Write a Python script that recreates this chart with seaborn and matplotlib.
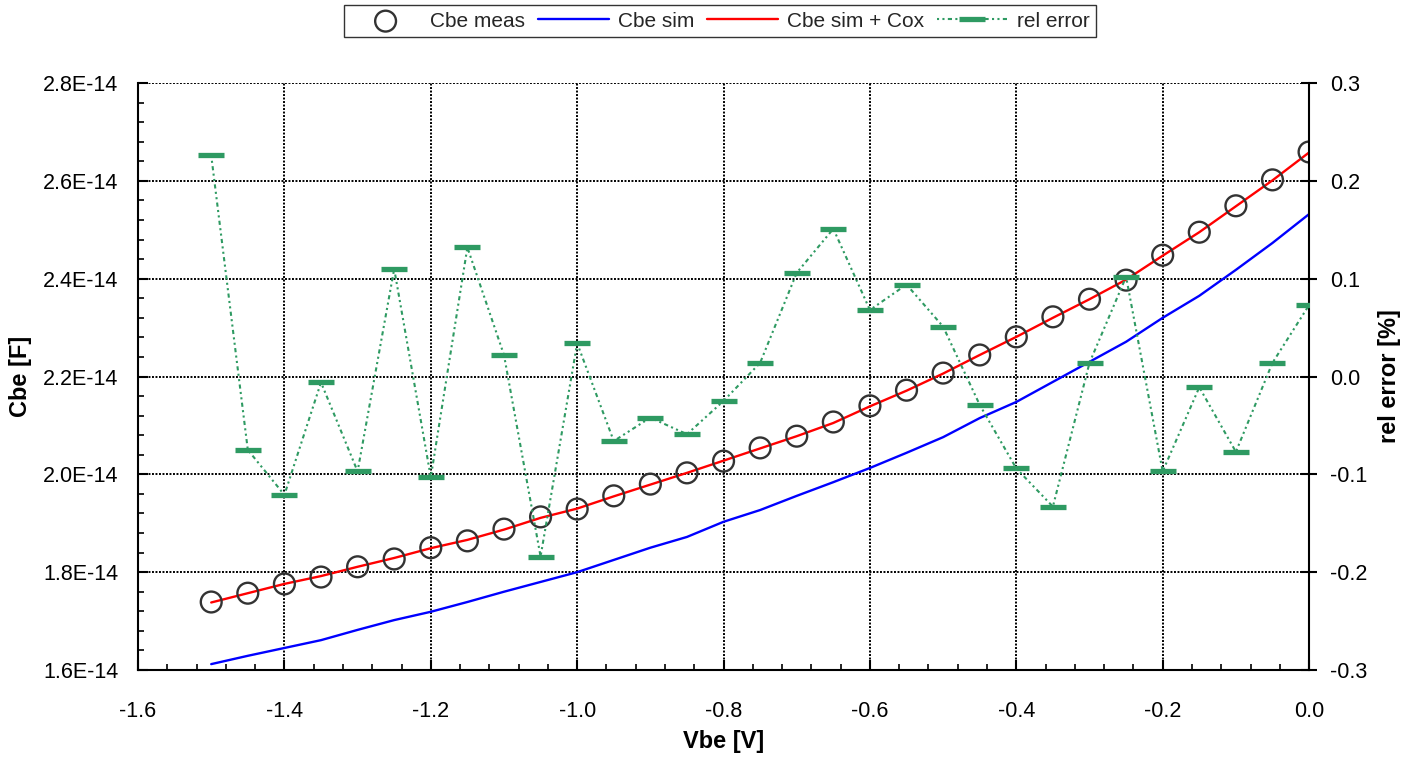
import numpy as np
import pandas as pd
import matplotlib
matplotlib.use("Agg")
import matplotlib.pyplot as plt
from matplotlib.ticker import AutoMinorLocator, FuncFormatter
import seaborn as sns

# Base-emitter bias sweep [V]
vbe = [-1.50, -1.45, -1.40, -1.35, -1.30, -1.25, -1.20, -1.15, -1.10, -1.05,
       -1.00, -0.95, -0.90, -0.85, -0.80, -0.75, -0.70, -0.65, -0.60, -0.55,
       -0.50, -0.45, -0.40, -0.35, -0.30, -0.25, -0.20, -0.15, -0.10, -0.05, 0.00]

# Capacitances in units of 1e-14 F
cbe_meas = [1.739, 1.757, 1.776, 1.790, 1.811, 1.827, 1.850, 1.864, 1.888, 1.913,
            1.929, 1.956, 1.980, 2.003, 2.027, 2.054, 2.078, 2.107, 2.140, 2.172,
            2.207, 2.244, 2.281, 2.322, 2.358, 2.397, 2.448, 2.495, 2.549, 2.602, 2.659]
cbe_sim = [1.612, 1.629, 1.645, 1.661, 1.682, 1.702, 1.719, 1.739, 1.760, 1.780,
           1.800, 1.825, 1.850, 1.872, 1.903, 1.927, 1.956, 1.984, 2.013, 2.044,
           2.076, 2.115, 2.148, 2.189, 2.230, 2.271, 2.320, 2.365, 2.418, 2.473, 2.532]
cbe_sim_cox = [1.738, 1.757, 1.776, 1.792, 1.811, 1.829, 1.849, 1.866, 1.887, 1.911,
               1.930, 1.955, 1.979, 2.003, 2.028, 2.053, 2.078, 2.105, 2.139, 2.171,
               2.206, 2.244, 2.281, 2.320, 2.358, 2.398, 2.447, 2.495, 2.548, 2.601, 2.658]
# Relative error between measurement and model [%]
rel_error = [0.226, -0.075, -0.121, -0.006, -0.097, 0.110, -0.103, 0.132, 0.022, -0.184,
             0.034, -0.066, -0.042, -0.059, -0.025, 0.014, 0.106, 0.151, 0.068, 0.094,
             0.051, -0.029, -0.094, -0.133, 0.014, 0.102, -0.097, -0.011, -0.077, 0.014, 0.073]

x_ticks = [-1.6, -1.4, -1.2, -1.0, -0.8, -0.6, -0.4, -0.2, 0.0]
y_ticks = [1.6e-14, 1.8e-14, 2.0e-14, 2.2e-14, 2.4e-14, 2.6e-14, 2.8e-14]
err_ticks = [-0.3, -0.2, -0.1, 0.0, 0.1, 0.2, 0.3]

df = pd.DataFrame({
    "Vbe": vbe,
    "meas": np.array(cbe_meas) * 1e-14,
    "sim": np.array(cbe_sim) * 1e-14,
    "sim_cox": np.array(cbe_sim_cox) * 1e-14,
    "err": rel_error,
})

sns.set_theme(style="white")
plt.rcParams["font.family"] = ["Liberation Sans", "DejaVu Sans"]

GREEN = "#2e9a62"
TICK_FS = 15.5
LABEL_FS = 17

fig = plt.figure(figsize=(14.07, 7.63), dpi=100)
ax = fig.add_axes([0.0981, 0.1219, 0.8323, 0.7693])
ax2 = ax.twinx()

sns.scatterplot(data=df, x="Vbe", y="meas", ax=ax, marker="o", s=225,
                facecolors="none", edgecolor="#333333", linewidth=1.7,
                label="Cbe meas", zorder=4, legend=False)
sns.lineplot(data=df, x="Vbe", y="sim", ax=ax, color="#0000ff", linewidth=1.7,
             label="Cbe sim", zorder=3, legend=False)
sns.lineplot(data=df, x="Vbe", y="sim_cox", ax=ax, color="#ff0000", linewidth=1.7,
             label="Cbe sim + Cox", zorder=3, legend=False)
sns.lineplot(data=df, x="Vbe", y="err", ax=ax2, color=GREEN, linewidth=1.5,
             linestyle=(0, (1.0, 1.6, 1.0, 1.6, 2.0, 1.6)),
             marker="_", markersize=19, markeredgewidth=3.8,
             markeredgecolor=GREEN, markerfacecolor=GREEN,
             label="rel error", zorder=5, legend=False)

# Left axis / bottom axis
ax.set_xlim(-1.6, 0.0)
ax.set_ylim(1.6e-14, 2.8e-14)
ax.set_xticks(x_ticks)
ax.set_yticks(y_ticks)
ax.xaxis.set_minor_locator(AutoMinorLocator(5))
ax.yaxis.set_minor_locator(AutoMinorLocator(5))
ax.xaxis.set_major_formatter(FuncFormatter(lambda v, p: f"{v:.1f}"))
ax.yaxis.set_major_formatter(FuncFormatter(lambda v, p: f"{v:.1E}"))
ax.grid(True, which="major", color="black", linestyle=(0, (1.0, 0.8)), linewidth=1.4)
ax.set_axisbelow(True)

ax.tick_params(axis="both", which="major", direction="in", length=7, width=1.5,
               labelsize=TICK_FS, colors="black")
ax.tick_params(axis="both", which="minor", direction="in", length=4, width=1.2,
               colors="black")
ax.tick_params(axis="x", which="major", pad=22)
ax.tick_params(axis="y", which="major", pad=14)
ax.tick_params(axis="both", which="both", bottom=True, left=True, top=False, right=False)

ax.set_xlabel("Vbe [V]", fontsize=LABEL_FS, fontweight="bold", labelpad=6, color="black")
ax.set_ylabel("Cbe [F]", fontsize=LABEL_FS, fontweight="bold", labelpad=8, color="black")

# Right axis for the relative error
ax2.set_ylim(-0.3, 0.3)
ax2.set_yticks(err_ticks)
ax2.yaxis.set_major_formatter(FuncFormatter(lambda v, p: f"{v:.1f}"))
ax2.tick_params(axis="y", which="major", direction="inout", length=12, width=1.5,
                pad=9, labelsize=TICK_FS, colors="black")
ax2.set_ylabel("rel error [%]", fontsize=LABEL_FS, fontweight="bold", labelpad=8,
               color="black")
ax2.grid(False)

for a in (ax, ax2):
    a.spines["top"].set_visible(False)
    for side in ("left", "bottom", "right"):
        a.spines[side].set_color("black")
        a.spines[side].set_linewidth(1.5)
ax.spines["right"].set_visible(False)
ax2.spines["left"].set_visible(False)
ax2.spines["bottom"].set_visible(False)

h1, l1 = ax.get_legend_handles_labels()
h2, l2 = ax2.get_legend_handles_labels()
leg = fig.legend(h1 + h2, l1 + l2, loc="upper center", ncol=4,
                 bbox_to_anchor=(0.5117, 0.993), frameon=True, fancybox=False,
                 fontsize=15, handlelength=3.4, handletextpad=0.45,
                 columnspacing=0.6, borderpad=0.3, borderaxespad=0.0)
leg.get_frame().set_edgecolor("black")
leg.get_frame().set_linewidth(1.0)

fig.savefig("out.png", dpi=100)
